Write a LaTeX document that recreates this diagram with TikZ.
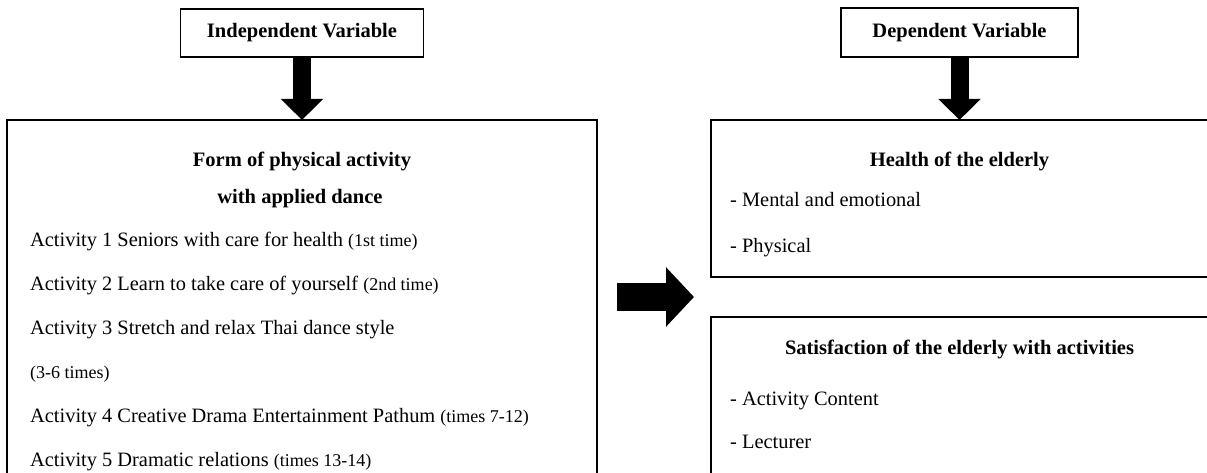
\documentclass[tikz,border=0pt]{standalone}
\usepackage{fontspec}
\setmainfont{Liberation Serif}
\usetikzlibrary{arrows.meta}
\newcommand\parsm[1]{{\fontsize{18}{21}\selectfont #1}}
\begin{document}
\begin{tikzpicture}[x=1pt,y=-1pt,
  bigbox/.style={draw, line width=1.6pt, rectangle, inner sep=0pt, outer sep=0pt},
  varbox/.style={draw, line width=1.6pt, rectangle, inner sep=0pt, outer sep=0pt,
    font=\bfseries\fontsize{20.5}{24}\selectfont},
  itemtxt/.style={inner sep=0pt, anchor=base west, font=\fontsize{20.4}{24}\selectfont},
  titletxt/.style={inner sep=0pt, anchor=base, font=\bfseries\fontsize{20.5}{24}\selectfont},
  downarrow/.style={line width=18pt, -{Triangle[width=41pt,length=21pt]}},
  rightarrow/.style={line width=28pt, -{Triangle[width=58pt,length=28pt]}}]
\useasboundingbox (0,0) rectangle (1207,473);
\clip (0,0) rectangle (1207,473);

% variable boxes
\node[varbox, minimum width=243pt, minimum height=48pt] (iv) at (302,33) {Independent Variable};
\node[varbox, minimum width=237pt, minimum height=49pt] (dv) at (959.5,32.5) {Dependent Variable};

% big boxes
\node[bigbox, anchor=north west, minimum width=590pt, minimum height=360pt] (lb) at (7,120) {};
\node[bigbox, anchor=north west, minimum width=497pt, minimum height=157pt] (hb) at (711,120) {};
\node[bigbox, anchor=north west, minimum width=497pt, minimum height=163pt] (sb) at (711,317) {};

% arrows
\draw[downarrow] (iv.south) -- (lb.north);
\draw[downarrow] (dv.south) -- (hb.north);
\coordinate (ra1) at (617,297);
\coordinate (ra2) at (694,297);
\draw[rightarrow] (ra1) -- (ra2);

% left box text
\node[titletxt] (lt1) at (302,167) {Form of physical activity};
\node[titletxt] (lt2) at (300,204) {with applied dance};
\node[itemtxt] (a1) at (30,246) {Activity 1 Seniors with care for health \parsm{(1st time)}};
\node[itemtxt] (a2) at (30,290) {Activity 2 Learn to take care of yourself \parsm{(2nd time)}};
\node[itemtxt] (a3) at (30,334) {Activity 3 Stretch and relax Thai dance style};
\node[itemtxt] (a3b) at (30,378) {\parsm{(3-6 times)}};
\node[itemtxt] (a4) at (30,422) {Activity 4 Creative Drama Entertainment Pathum \parsm{(times 7-12)}};
\node[itemtxt] (a5) at (30,466) {Activity 5 Dramatic relations \parsm{(times 13-14)}};

% health box text
\node[titletxt] (ht) at (959.5,167) {Health of the elderly};
\node[itemtxt] (h1) at (730,207) {- Mental and emotional};
\node[itemtxt] (h2) at (730,252) {- Physical};

% satisfaction box text
\node[titletxt] (st) at (959.5,354) {Satisfaction of the elderly with activities};
\node[itemtxt] (s1) at (730,405) {- Activity Content};
\node[itemtxt] (s2) at (730,448) {- Lecturer};
\end{tikzpicture}
\end{document}
